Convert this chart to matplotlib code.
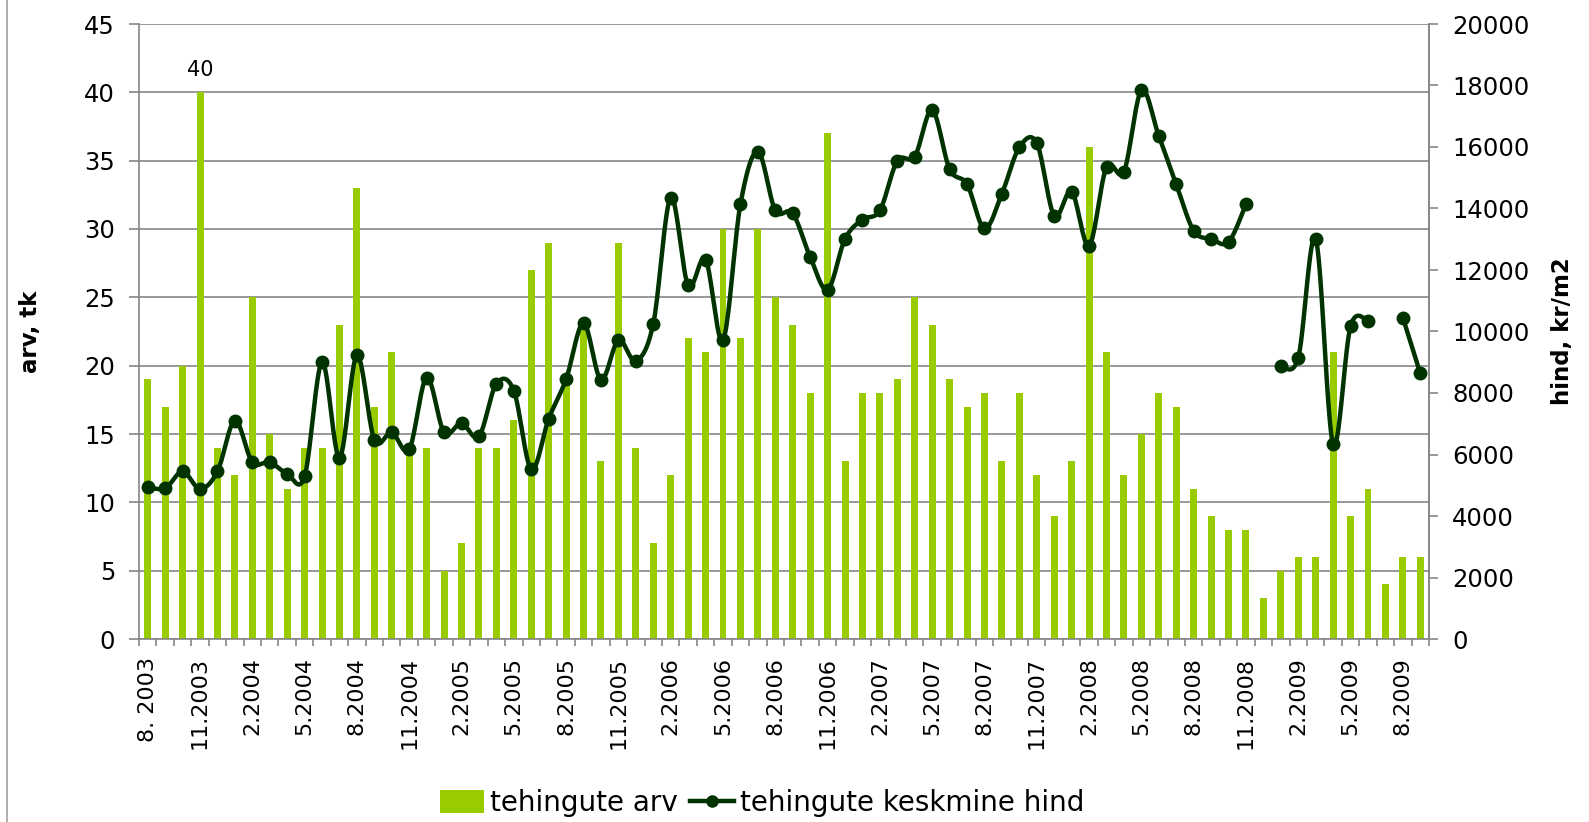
import numpy as np
import matplotlib
matplotlib.use("Agg")
import matplotlib.pyplot as plt
from matplotlib.patches import Patch
from matplotlib.lines import Line2D
from matplotlib.ticker import MultipleLocator, FixedLocator

plt.rcParams["font.family"] = ["DejaVu Sans"]

# Monthly deals, 8.2003 ... 9.2009
tick_labels = ["8. 2003", "11.2003", "2.2004", "5.2004", "8.2004", "11.2004",
               "2.2005", "5.2005", "8.2005", "11.2005", "2.2006", "5.2006",
               "8.2006", "11.2006", "2.2007", "5.2007", "8.2007", "11.2007",
               "2.2008", "5.2008", "8.2008", "11.2008", "2.2009", "5.2009",
               "8.2009"]

deal_count = [19, 17, 20, 40, 14, 12, 25, 15, 11, 14, 14, 23, 33, 17, 21, 14,
              14, 5, 7, 14, 14, 16, 27, 29, 19, 23, 13, 29, 14, 7, 12, 22,
              21, 30, 22, 30, 25, 23, 18, 37, 13, 18, 18, 19, 25, 23, 19, 17,
              18, 13, 18, 12, 9, 13, 36, 21, 12, 15, 18, 17, 11, 9, 8, 8,
              3, 5, 6, 6, 21, 9, 11, 4, 6, 6]

avg_price = [4950, 4900, 5450, 4880, 5450, 7100, 5750, 5750, 5370, 5290,
             9000, 5900, 9220, 6480, 6720, 6170, 8500, 6720, 7020, 6590,
             8300, 8080, 5520, 7160, 8450, 10270, 8430, 9720, 9040, 10250,
             14350, 11500, 12340, 9720, 14140, 15850, 13940, 13840, 12430, 11360,
             13010, 13640, 13940, 15550, 15690, 17200, 15280, 14790, 13350, 14480,
             15990, 16130, 13770, 14550, 12790, 15350, 15200, 17840, 16360, 14790,
             13280, 13010, 12910, 14140, None, 8870, 9150, 13010, 6340, 10170,
             10350, None, 10450, 8640]

labelled_bar = 3  # 11.2003

BAR_COLOR = "#99cc00"
LINE_COLOR = "#003300"
GRID_COLOR = "#868686"

W, H = 1589, 822
fig = plt.figure(figsize=(W / 100, H / 100), dpi=100)
ax = fig.add_axes([139 / W, 1 - 639 / H, (1429 - 139) / W, (639 - 24) / H])

n = len(deal_count)
x = np.arange(n)

ax.bar(x, deal_count, width=0.4, color=BAR_COLOR, zorder=2)
ax.set_xlim(-0.5, n - 0.5)
ax.set_ylim(0, 45)
ax.yaxis.set_major_locator(MultipleLocator(5))
ax.grid(axis="y", color=GRID_COLOR, linewidth=1.2, zorder=0)
ax.set_axisbelow(True)

ax.spines["top"].set_visible(False)
for side in ("left", "bottom", "right"):
    ax.spines[side].set_color(GRID_COLOR)
    ax.spines[side].set_linewidth(1.2)

ax.tick_params(axis="y", direction="out", length=7.2, width=1.2, color=GRID_COLOR,
               labelsize=17.5, pad=10)

# category labels every third month, tick marks at every category boundary
ax.xaxis.set_major_locator(FixedLocator(x[::3]))
ax.set_xticklabels(tick_labels, rotation=90, fontsize=16, va="top")
ax.tick_params(axis="x", which="major", length=0, pad=13)
ax.xaxis.set_minor_locator(FixedLocator(np.arange(-0.5, n, 1.0)))
ax.tick_params(axis="x", which="minor", direction="out", length=5, width=1.2,
               color=GRID_COLOR)

ax.annotate(str(deal_count[labelled_bar]), (labelled_bar, deal_count[labelled_bar]),
            xytext=(0, 9), textcoords="offset points", ha="center", va="bottom",
            fontsize=15)

# price axis
ax2 = ax.twinx()
ax2.set_ylim(0, 20000)
ax2.yaxis.set_major_locator(MultipleLocator(2000))
ax2.tick_params(axis="y", direction="out", length=6.5, width=1.2, color=GRID_COLOR,
                labelsize=17.5, pad=10)
for side in ("top", "left", "bottom"):
    ax2.spines[side].set_visible(False)
ax2.spines["right"].set_color(GRID_COLOR)
ax2.spines["right"].set_linewidth(1.2)

# axis titles
mid_y = 1 - ((24 + 639) / 2) / H
fig.text(31 / W, mid_y, "arv, tk", rotation=90, ha="center", va="center",
         fontsize=16.5, fontweight="bold")
fig.text(1562 / W, mid_y, "hind, kr/m2", rotation=90, ha="center", va="center",
         fontsize=16.5, fontweight="bold")


def smooth_run(px, py, steps=20):
    """Cubic Bezier curve through the points, neighbour-based tangents."""
    if len(px) < 2:
        return px, py
    P = np.column_stack([px, py]).astype(float)
    Q = np.vstack([P[0], P, P[-1]])
    out = []
    t = np.linspace(0, 1, steps)[:, None]
    for i in range(len(P) - 1):
        p0, p1 = Q[i + 1], Q[i + 2]
        c1 = p0 + (Q[i + 2] - Q[i]) / 6.0
        c2 = p1 - (Q[i + 3] - Q[i + 1]) / 6.0
        seg = ((1 - t) ** 3) * p0 + 3 * ((1 - t) ** 2) * t * c1 + \
            3 * (1 - t) * t ** 2 * c2 + t ** 3 * p1
        out.append(seg if i == 0 else seg[1:])
    out = np.vstack(out)
    return out[:, 0], out[:, 1]


# split the price series into runs without gaps
runs, cur = [], []
for i, v in enumerate(avg_price):
    if v is None:
        if cur:
            runs.append(cur)
        cur = []
    else:
        cur.append(i)
if cur:
    runs.append(cur)

for run in runs:
    rx = np.array(run)
    ry = np.array([avg_price[i] for i in run])
    sx, sy = smooth_run(rx, ry)
    ax2.plot(sx, sy, color=LINE_COLOR, linewidth=3.2, solid_capstyle="round",
             zorder=3)
    ax2.plot(rx, ry, linestyle="none", marker="o", markersize=9,
             color=LINE_COLOR, zorder=4)

# legend below the plot
handles = [Patch(facecolor=BAR_COLOR, edgecolor="none"),
           Line2D([0], [0], color=LINE_COLOR, linewidth=3.2, marker="o",
                  markersize=8)]
fig.legend(handles, ["tehingute arv", "tehingute keskmine hind"],
           loc="center", bbox_to_anchor=(762 / W, 1 - 803 / H), ncol=2,
           frameon=False, fontsize=20, handlelength=1.58, handleheight=0.86,
           handletextpad=0.22, columnspacing=0.43, borderpad=0)

# outer chart border on the left
fig.add_artist(Line2D([7 / W, 7 / W], [0, 1], color="#a0a0a0", linewidth=1.2))

fig.savefig("out.png", dpi=100)
